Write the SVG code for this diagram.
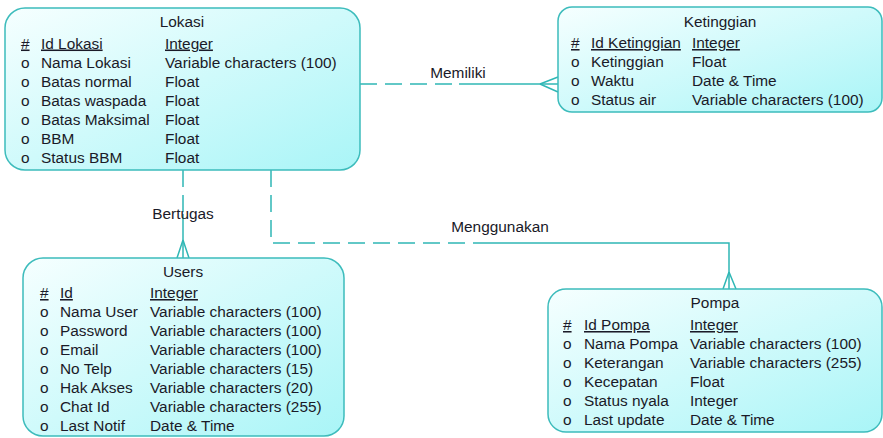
<svg xmlns="http://www.w3.org/2000/svg" width="883" height="438" viewBox="0 0 883 438">
  <defs>
    <linearGradient id="entityFill" x1="0" y1="0" x2="1" y2="1">
      <stop offset="0" stop-color="#f6ffff"/>
      <stop offset="1" stop-color="#a9f5f7"/>
    </linearGradient>
    <style>
      .box { fill: url(#entityFill); stroke: #3dbcbc; stroke-width: 1.5; }
      text { font-family: "Liberation Sans", Arial, sans-serif; font-size: 15.4px; fill: #1a1a28; }
      .title { text-anchor: middle; }
      .key { text-decoration: underline; }
      .rel { text-anchor: middle; }
      .line { fill: none; stroke: #2fb7b5; stroke-width: 1.5; }
      .dash { stroke-dasharray: 17 8; }
    </style>
  </defs>

  <!-- relationships -->
  <g id="connectors">
    <!-- Memiliki: Lokasi -> Ketinggian -->
    <g id="rel-memiliki">
      <path class="line dash" d="M360,84 H459"/>
      <path class="line" d="M459,84 H558"/>
      <path class="line" d="M540,84 L558,77 M540,84 L558,92"/>
      <text class="rel" x="458" y="78">Memiliki</text>
    </g>
    <!-- Bertugas: Lokasi -> Users -->
    <g id="rel-bertugas">
      <path class="line dash" d="M183,170 V214"/>
      <path class="line" d="M183,214 V258"/>
      <path class="line" d="M183,240 L177,258 M183,240 L189,258"/>
      <text class="rel" x="183" y="219">Bertugas</text>
    </g>
    <!-- Menggunakan: Lokasi -> Pompa -->
    <g id="rel-menggunakan">
      <path class="line dash" d="M271,170 V243 H482"/>
      <path class="line" d="M482,243 H729 V289"/>
      <path class="line" d="M729,272 L723,289 M729,272 L736,289"/>
      <text class="rel" x="500" y="232">Menggunakan</text>
    </g>
  </g>

  <!-- entity: Lokasi -->
  <g id="lokasi">
    <rect class="box" x="5" y="8" width="355" height="162" rx="20" ry="20"/>
    <text class="title" x="182" y="27">Lokasi</text>
    <text class="key" x="21" y="48.5">#</text>
    <text class="key" x="41" y="48.5">Id Lokasi</text>
    <text class="key" x="165" y="48.5">Integer</text>
    <text x="21" y="67.5">o</text><text x="41" y="67.5">Nama Lokasi</text><text x="165" y="67.5">Variable characters (100)</text>
    <text x="21" y="86.5">o</text><text x="41" y="86.5">Batas normal</text><text x="165" y="86.5">Float</text>
    <text x="21" y="105.5">o</text><text x="41" y="105.5">Batas waspada</text><text x="165" y="105.5">Float</text>
    <text x="21" y="124.5">o</text><text x="41" y="124.5">Batas Maksimal</text><text x="165" y="124.5">Float</text>
    <text x="21" y="143.5">o</text><text x="41" y="143.5">BBM</text><text x="165" y="143.5">Float</text>
    <text x="21" y="162.5">o</text><text x="41" y="162.5">Status BBM</text><text x="165" y="162.5">Float</text>
  </g>

  <!-- entity: Ketinggian -->
  <g id="ketinggian">
    <rect class="box" x="558" y="7" width="324" height="105" rx="14" ry="14"/>
    <text class="title" x="720" y="27">Ketinggian</text>
    <text class="key" x="571" y="48">#</text>
    <text class="key" x="591" y="48">Id Ketinggian</text>
    <text class="key" x="692" y="48">Integer</text>
    <text x="571" y="67">o</text><text x="591" y="67">Ketinggian</text><text x="692" y="67">Float</text>
    <text x="571" y="86">o</text><text x="591" y="86">Waktu</text><text x="692" y="86">Date &amp; Time</text>
    <text x="571" y="105">o</text><text x="591" y="105">Status air</text><text x="692" y="105">Variable characters (100)</text>
  </g>

  <!-- entity: Users -->
  <g id="users">
    <rect class="box" x="23" y="258" width="321" height="178" rx="20" ry="20"/>
    <text class="title" x="183" y="277">Users</text>
    <text class="key" x="40" y="298">#</text>
    <text class="key" x="60" y="298">Id</text>
    <text class="key" x="150" y="298">Integer</text>
    <text x="40" y="317">o</text><text x="60" y="317">Nama User</text><text x="150" y="317">Variable characters (100)</text>
    <text x="40" y="336">o</text><text x="60" y="336">Password</text><text x="150" y="336">Variable characters (100)</text>
    <text x="40" y="355">o</text><text x="60" y="355">Email</text><text x="150" y="355">Variable characters (100)</text>
    <text x="40" y="374">o</text><text x="60" y="374">No Telp</text><text x="150" y="374">Variable characters (15)</text>
    <text x="40" y="393">o</text><text x="60" y="393">Hak Akses</text><text x="150" y="393">Variable characters (20)</text>
    <text x="40" y="412">o</text><text x="60" y="412">Chat Id</text><text x="150" y="412">Variable characters (255)</text>
    <text x="40" y="431">o</text><text x="60" y="431">Last Notif</text><text x="150" y="431">Date &amp; Time</text>
  </g>

  <!-- entity: Pompa -->
  <g id="pompa">
    <rect class="box" x="548" y="289" width="334" height="143" rx="18" ry="18"/>
    <text class="title" x="715" y="308">Pompa</text>
    <text class="key" x="563" y="330">#</text>
    <text class="key" x="584" y="330">Id Pompa</text>
    <text class="key" x="690" y="330">Integer</text>
    <text x="563" y="349">o</text><text x="584" y="349">Nama Pompa</text><text x="690" y="349">Variable characters (100)</text>
    <text x="563" y="368">o</text><text x="584" y="368">Keterangan</text><text x="690" y="368">Variable characters (255)</text>
    <text x="563" y="387">o</text><text x="584" y="387">Kecepatan</text><text x="690" y="387">Float</text>
    <text x="563" y="406">o</text><text x="584" y="406">Status nyala</text><text x="690" y="406">Integer</text>
    <text x="563" y="425">o</text><text x="584" y="425">Last update</text><text x="690" y="425">Date &amp; Time</text>
  </g>
</svg>
